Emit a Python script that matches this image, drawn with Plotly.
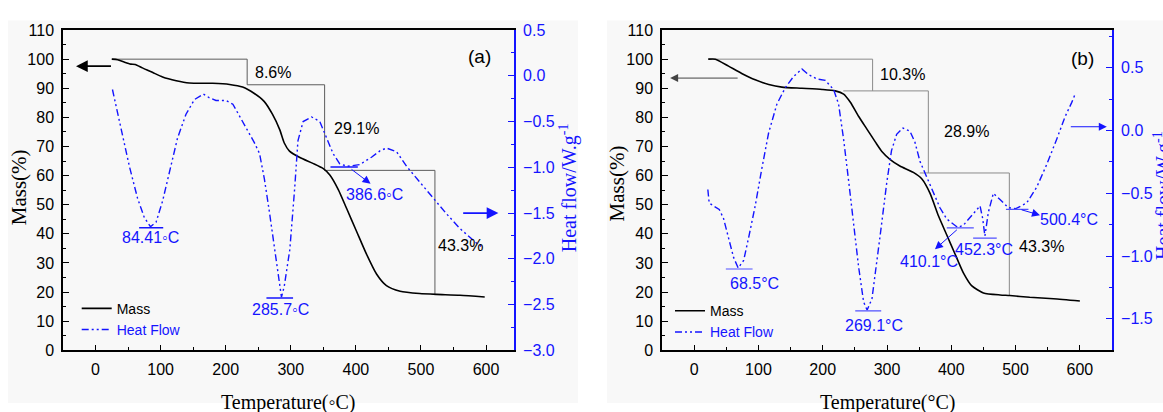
import plotly.graph_objects as go

# ---------------- panel (a) data ----------------
a_mass_T = [25, 34, 44, 54, 61, 72, 88, 103, 124, 144, 180, 206, 226, 244, 259, 272, 283, 290, 298, 314, 334, 350,
            360, 373, 386, 401, 416, 432, 447, 468, 498, 524, 560, 598]
a_mass = [100, 99.8, 99.0, 98.3, 98.2, 97.0, 95.4, 93.9, 92.6, 91.8, 91.7, 91.3, 90.4, 88.2, 85.5, 81.0, 75.8, 71.2,
          68.4, 66.2, 64.2, 62.4, 60.2, 55.2, 48.6, 40.9, 33.2, 26.1, 22.2, 20.3, 19.5, 19.2, 18.9, 18.3]

a_heat_T = [26, 31, 41.5, 52, 64.6, 75, 84.4, 93, 103, 113, 126, 139, 152, 165.6, 175, 185, 200.5, 211, 226, 244,
            252, 259.5, 267, 275, 282.6, 285.7, 290, 298.5, 306, 311, 319, 332, 344.6, 355, 365, 375, 386.6, 406, 424,
            437, 447, 462.6, 478, 498, 519, 539.5, 560, 575, 585.7, 596]
a_heat = [-0.15, -0.31, -0.64, -0.99, -1.34, -1.55, -1.65, -1.60, -1.37, -1.06, -0.68, -0.42, -0.26, -0.20, -0.24,
          -0.27, -0.27, -0.31, -0.50, -0.73, -0.85, -1.13, -1.48, -1.89, -2.28, -2.42, -2.30, -1.90, -1.23, -0.71,
          -0.50, -0.45, -0.50, -0.68, -0.85, -0.96, -0.99, -0.97, -0.89, -0.82, -0.79, -0.83, -0.99, -1.16, -1.34,
          -1.51, -1.67, -1.76, -1.83, -1.88]

a_step_T = [25, 233, 233, 352, 352, 521.5, 521.5]
a_step_mass = [100, 100, 91.2, 91.2, 61.8, 61.8, 19.2]

a_loss_text = ["8.6%", "29.1%", "43.3%"]
a_loss_T = [241.5, 362.6, 523]
a_loss_mass = [95.4, 76.1, 36.0]

a_peak_text = ["84.41\u25e6C", "285.7\u25e6C", "386.6\u25e6C"]
a_peak_text_T = [85, 283.8, 428.7]
a_peak_text_v = [-1.77, -2.555, -1.30]

a_mark_T = [67, 104, None, 262.6, 303.5, None, 361, 403]
a_mark_v = [-1.66, -1.66, None, -2.43, -2.43, None, -0.997, -0.997]

# arrows: (tail_T, tail_val, head_T, head_val, axis)
a_arrows = [(26, 97.6, -30, 97.6, "mass"), (562.6, -1.5, 619, -1.5, "heat"), (391, -1.01, 422.6, -1.18, "heat")]

# ---------------- panel (b) data ----------------
b_mass_T = [22, 33, 53.5, 74, 95, 116, 136.5, 167.6, 199, 219.5, 232.5, 243, 256, 269, 282, 292, 305, 320, 341, 354,
            367, 380, 393, 406, 419, 432, 450, 476, 491, 522, 559, 600]
b_mass = [100, 100, 97.6, 95.1, 92.9, 91.3, 90.4, 90.0, 89.6, 89.1, 88.0, 85.2, 80.3, 75.9, 71.5, 68.3, 65.5, 63.3,
          61.1, 58.9, 53.9, 46.2, 39.6, 33.0, 26.5, 22.1, 19.7, 19.0, 18.8, 18.2, 17.7, 16.9]

b_heat_T = [21.3, 23.4, 30, 39, 45.7, 53.5, 61.3, 68.5, 77, 84.6, 95, 105.4, 115.8, 128.7, 141.7, 154.7, 167.6, 178,
            191, 204, 217, 224.7, 232.5, 240.3, 248, 255.8, 263.6, 269.1, 276.6, 283, 289, 299.5, 307, 315, 325,
            335.7, 343.5, 351.3, 361.7, 372, 382.4, 392.8, 410.1, 418.7, 431.7, 444.7, 448.8, 452.3, 457.6, 465.4,
            475.8, 488.7, 500.4, 517.3, 533, 548.5, 564, 577, 587.4, 592.5]
b_heat = [-0.47, -0.577, -0.60, -0.628, -0.70, -0.857, -1.01, -1.095, -1.035, -0.857, -0.60, -0.30, -0.02, 0.21, 0.34,
          0.43, 0.49, 0.445, 0.41, 0.40, 0.326, 0.21, -0.07, -0.40, -0.755, -1.085, -1.365, -1.43, -1.34, -1.10,
          -0.85, -0.42, -0.16, -0.03, 0.02, -0.005, -0.094, -0.246, -0.374, -0.50, -0.615, -0.704, -0.772, -0.755,
          -0.68, -0.60, -0.70, -0.84, -0.653, -0.50, -0.55, -0.615, -0.622, -0.577, -0.45, -0.27, -0.069, 0.11,
          0.224, 0.288]

b_step_T = [21.8, 277.6, 277.6, None, 232, 364.3, 364.3, None, 351, 490.3, 490.3]
b_step_mass = [100, 100, 89.1, None, 89.1, 89.1, 60.9, None, 60.9, 60.9, 18.8]

b_loss_text = ["10.3%", "28.9%", "43.3%"]
b_loss_T = [285.6, 385, 502.7]
b_loss_mass = [94.6, 75.0, 35.5]

b_peak_text = ["68.5\u00b0C", "269.1\u00b0C", "410.1\u00b0C", "452.3\u00b0C", "500.4\u00b0C"]
b_peak_text_T = [93.2, 280.4, 365.3, 450.6, 583.5]
b_peak_text_v = [-1.217, -1.556, -1.047, -0.946, -0.712]

b_mark_T = [49.3, 90.9, None, 250.6, 291, None, 393, 435, None, 434, 470.7, None, 485, 520]
b_mark_v = [-1.103, -1.103, None, -1.436, -1.436, None, -0.775, -0.775, None, -0.857, -0.857, None, -0.628, -0.628]

b_arrows = [(70, 93.5, -37.4, 93.5, "mass"), (583.6, 0.03, 641.9, 0.03, "heat"),
            (411, -0.78, 374.6, -0.946, "heat"), (507, -0.628, 538, -0.674, "heat")]

x_ticks = [0, 100, 200, 300, 400, 500, 600]

# ---------------- styling ----------------
W, H = 1163, 412
BLUE = "#1414ff"
DASH = "7px,3px,2px,3px,2px,3px"
SANS = "Liberation Sans, Arial, sans-serif"
SERIF = "Liberation Serif, Times New Roman, serif"

# arrow styles (colour, line width, head size), one per arrow
a_arrow_style = [("black", 1.8, 1.3), (BLUE, 1.8, 1.3), (BLUE, 1.0, 1.6)]
b_arrow_style = [("#444444", 1.0, 1.6), (BLUE, 1.0, 1.6), (BLUE, 1.0, 1.6), (BLUE, 1.0, 1.6)]


def pxx(p):
    return p / W


def pxy(p):
    return 1 - p / H


fig = go.Figure()

# panel (a)
fig.add_trace(go.Scatter(x=a_step_T, y=a_step_mass, mode="lines", line=dict(color="#5c5c5c", width=1),
                         xaxis="x", yaxis="y", showlegend=False, hoverinfo="skip"))
fig.add_trace(go.Scatter(x=a_mass_T, y=a_mass, mode="lines", line=dict(color="black", width=1.6, shape="spline",
                         smoothing=0.6), xaxis="x", yaxis="y", name="Mass", legend="legend"))
fig.add_trace(go.Scatter(x=a_heat_T, y=a_heat, mode="lines", line=dict(color=BLUE, width=1.4, dash=DASH),
                         xaxis="x", yaxis="y2", name="<span style='color:#1414ff'>Heat Flow</span>",
                         legend="legend"))
fig.add_trace(go.Scatter(x=a_mark_T, y=a_mark_v, mode="lines", line=dict(color=BLUE, width=1.5),
                         xaxis="x", yaxis="y2", showlegend=False, hoverinfo="skip"))

# panel (b)
fig.add_trace(go.Scatter(x=b_step_T, y=b_step_mass, mode="lines", line=dict(color="#8a8a8a", width=1),
                         xaxis="x2", yaxis="y3", showlegend=False, hoverinfo="skip"))
fig.add_trace(go.Scatter(x=b_mass_T, y=b_mass, mode="lines", line=dict(color="black", width=1.6, shape="spline",
                         smoothing=0.6), xaxis="x2", yaxis="y3", name="Mass", legend="legend2"))
fig.add_trace(go.Scatter(x=b_heat_T, y=b_heat, mode="lines", line=dict(color=BLUE, width=1.4, dash=DASH),
                         xaxis="x2", yaxis="y4", name="<span style='color:#1414ff'>Heat Flow</span>",
                         legend="legend2"))
fig.add_trace(go.Scatter(x=b_mark_T, y=b_mark_v, mode="lines", line=dict(color="#5050ff", width=1.2),
                         xaxis="x2", yaxis="y4", showlegend=False, hoverinfo="skip"))

annotations = []


def add_panel_text(xref, yref_mass, yref_heat, loss_text, loss_T, loss_mass, peak_text, peak_T, peak_v, arrows,
                   styles):
    for t, x, y in zip(loss_text, loss_T, loss_mass):
        annotations.append(dict(text=t, x=x, y=y, xref=xref, yref=yref_mass, xanchor="left", yanchor="middle",
                                showarrow=False, font=dict(family=SANS, size=16, color="black")))
    for t, x, y in zip(peak_text, peak_T, peak_v):
        annotations.append(dict(text=t, x=x, y=y, xref=xref, yref=yref_heat, xanchor="center", yanchor="middle",
                                showarrow=False, font=dict(family=SANS, size=16, color=BLUE)))
    for (tx, ty, hx, hy, kind), (col, wid, hs) in zip(arrows, styles):
        yr = yref_mass if kind == "mass" else yref_heat
        annotations.append(dict(text="", x=hx, y=hy, ax=tx, ay=ty, xref=xref, yref=yr, axref=xref, ayref=yr,
                                showarrow=True, arrowhead=2, arrowsize=hs, arrowwidth=wid, arrowcolor=col))


add_panel_text("x", "y", "y2", a_loss_text, a_loss_T, a_loss_mass, a_peak_text, a_peak_text_T, a_peak_text_v,
               a_arrows, a_arrow_style)
add_panel_text("x2", "y3", "y4", b_loss_text, b_loss_T, b_loss_mass, b_peak_text, b_peak_text_T, b_peak_text_v,
               b_arrows, b_arrow_style)

annotations.append(dict(text="(a)", x=590.7, y=100.9, xref="x", yref="y", showarrow=False,
                        font=dict(family=SANS, size=19, color="black")))
annotations.append(dict(text="(b)", x=603.4, y=100.1, xref="x2", yref="y3", showarrow=False,
                        font=dict(family=SANS, size=19, color="black")))

# axis titles
titles = [
    ("Mass(%)", 19, 187, -90, "black", 21),
    ("Heat flow/W.g<sup>-1</sup>", 568, 188, -90, BLUE, 20),
    ("Temperature(\u25e6C)", 288, 411, 0, "black", 20),
    ("Mass(%)", 617, 183, -90, "black", 21),
    ("Heat flow/W.g<sup>-1</sup>", 1163, 196, -90, BLUE, 20),
    ("Temperature(\u00b0C)", 887, 411, 0, "black", 20),
]
for t, x, y, ang, col, sz in titles:
    annotations.append(dict(text=t, x=pxx(x), y=pxy(y), xref="paper", yref="paper", showarrow=False,
                            textangle=ang, xanchor="center", yanchor="middle",
                            font=dict(family=SERIF, size=sz, color=col)))

shapes = [
    dict(type="rect", xref="paper", yref="paper", x0=pxx(8), x1=pxx(578), y0=0, y1=pxy(13),
         fillcolor="#f8f8f8", line=dict(width=0), layer="below"),
    dict(type="rect", xref="paper", yref="paper", x0=pxx(607), x1=1, y0=0, y1=pxy(13),
         fillcolor="#f8f8f8", line=dict(width=0), layer="below"),
]

ydom = [pxy(357), pxy(23)]
tickfont = dict(family=SANS, size=16, color="black")
bluefont = dict(family=SANS, size=16, color=BLUE)


def xax(domain, rng, anchor):
    return dict(domain=domain, range=rng, anchor=anchor, tickvals=x_ticks, ticks="inside", ticklen=6,
                tickwidth=1.2, tickcolor="black", minor=dict(ticks="inside", ticklen=3.5, dtick=50, tick0=0,
                                                              tickcolor="black"),
                showline=True, linecolor="black", linewidth=1.5, mirror=True, showgrid=False, zeroline=False,
                tickfont=tickfont, ticklabelstandoff=4)


def ymass(anchor):
    return dict(domain=ydom, range=[0, 110], anchor=anchor, dtick=10, tick0=0, ticks="inside", ticklen=6,
                tickwidth=1.2, tickcolor="black", minor=dict(ticks="inside", ticklen=3.5, dtick=5,
                                                              tickcolor="black"),
                showline=True, linecolor="black", linewidth=1.5, showgrid=False, zeroline=False,
                tickfont=tickfont, ticklabelstandoff=4)


def yheat(anchor, overlay, rng):
    return dict(range=rng, anchor=anchor, overlaying=overlay, side="right", dtick=0.5, tick0=0, tickformat=".1f",
                ticks="inside", ticklen=6, tickwidth=1.2, tickcolor=BLUE,
                minor=dict(ticks="inside", ticklen=3.5, dtick=0.25, tickcolor=BLUE),
                showline=True, linecolor=BLUE, linewidth=1.8, showgrid=False, zeroline=False,
                tickfont=bluefont, ticklabelstandoff=4)


fig.update_layout(
    width=W, height=H, margin=dict(l=0, r=0, t=0, b=0),
    paper_bgcolor="white", plot_bgcolor="rgba(0,0,0,0)",
    xaxis=xax([pxx(63), pxx(514)], [-50, 643], "y"),
    yaxis=ymass("x"),
    yaxis2=yheat("x", "y", [-3, 0.5]),
    xaxis2=xax([pxx(662), pxx(1112)], [-50, 650], "y3"),
    yaxis3=ymass("x2"),
    yaxis4=yheat("x2", "y3", [-1.75, 0.8]),
    legend=dict(x=pxx(76.7), y=pxy(297), xanchor="left", yanchor="top", bgcolor="rgba(0,0,0,0)",
                font=dict(family=SANS, size=14, color="black"), tracegroupgap=0),
    legend2=dict(x=pxx(670), y=pxy(299.5), xanchor="left", yanchor="top", bgcolor="rgba(0,0,0,0)",
                 font=dict(family=SANS, size=14, color="black"), tracegroupgap=0),
    annotations=annotations,
    shapes=shapes,
)

fig.write_html("out.html", config=dict(displayModeBar=False),
               post_script="document.body.style.margin='0';document.body.style.overflow='hidden';")
